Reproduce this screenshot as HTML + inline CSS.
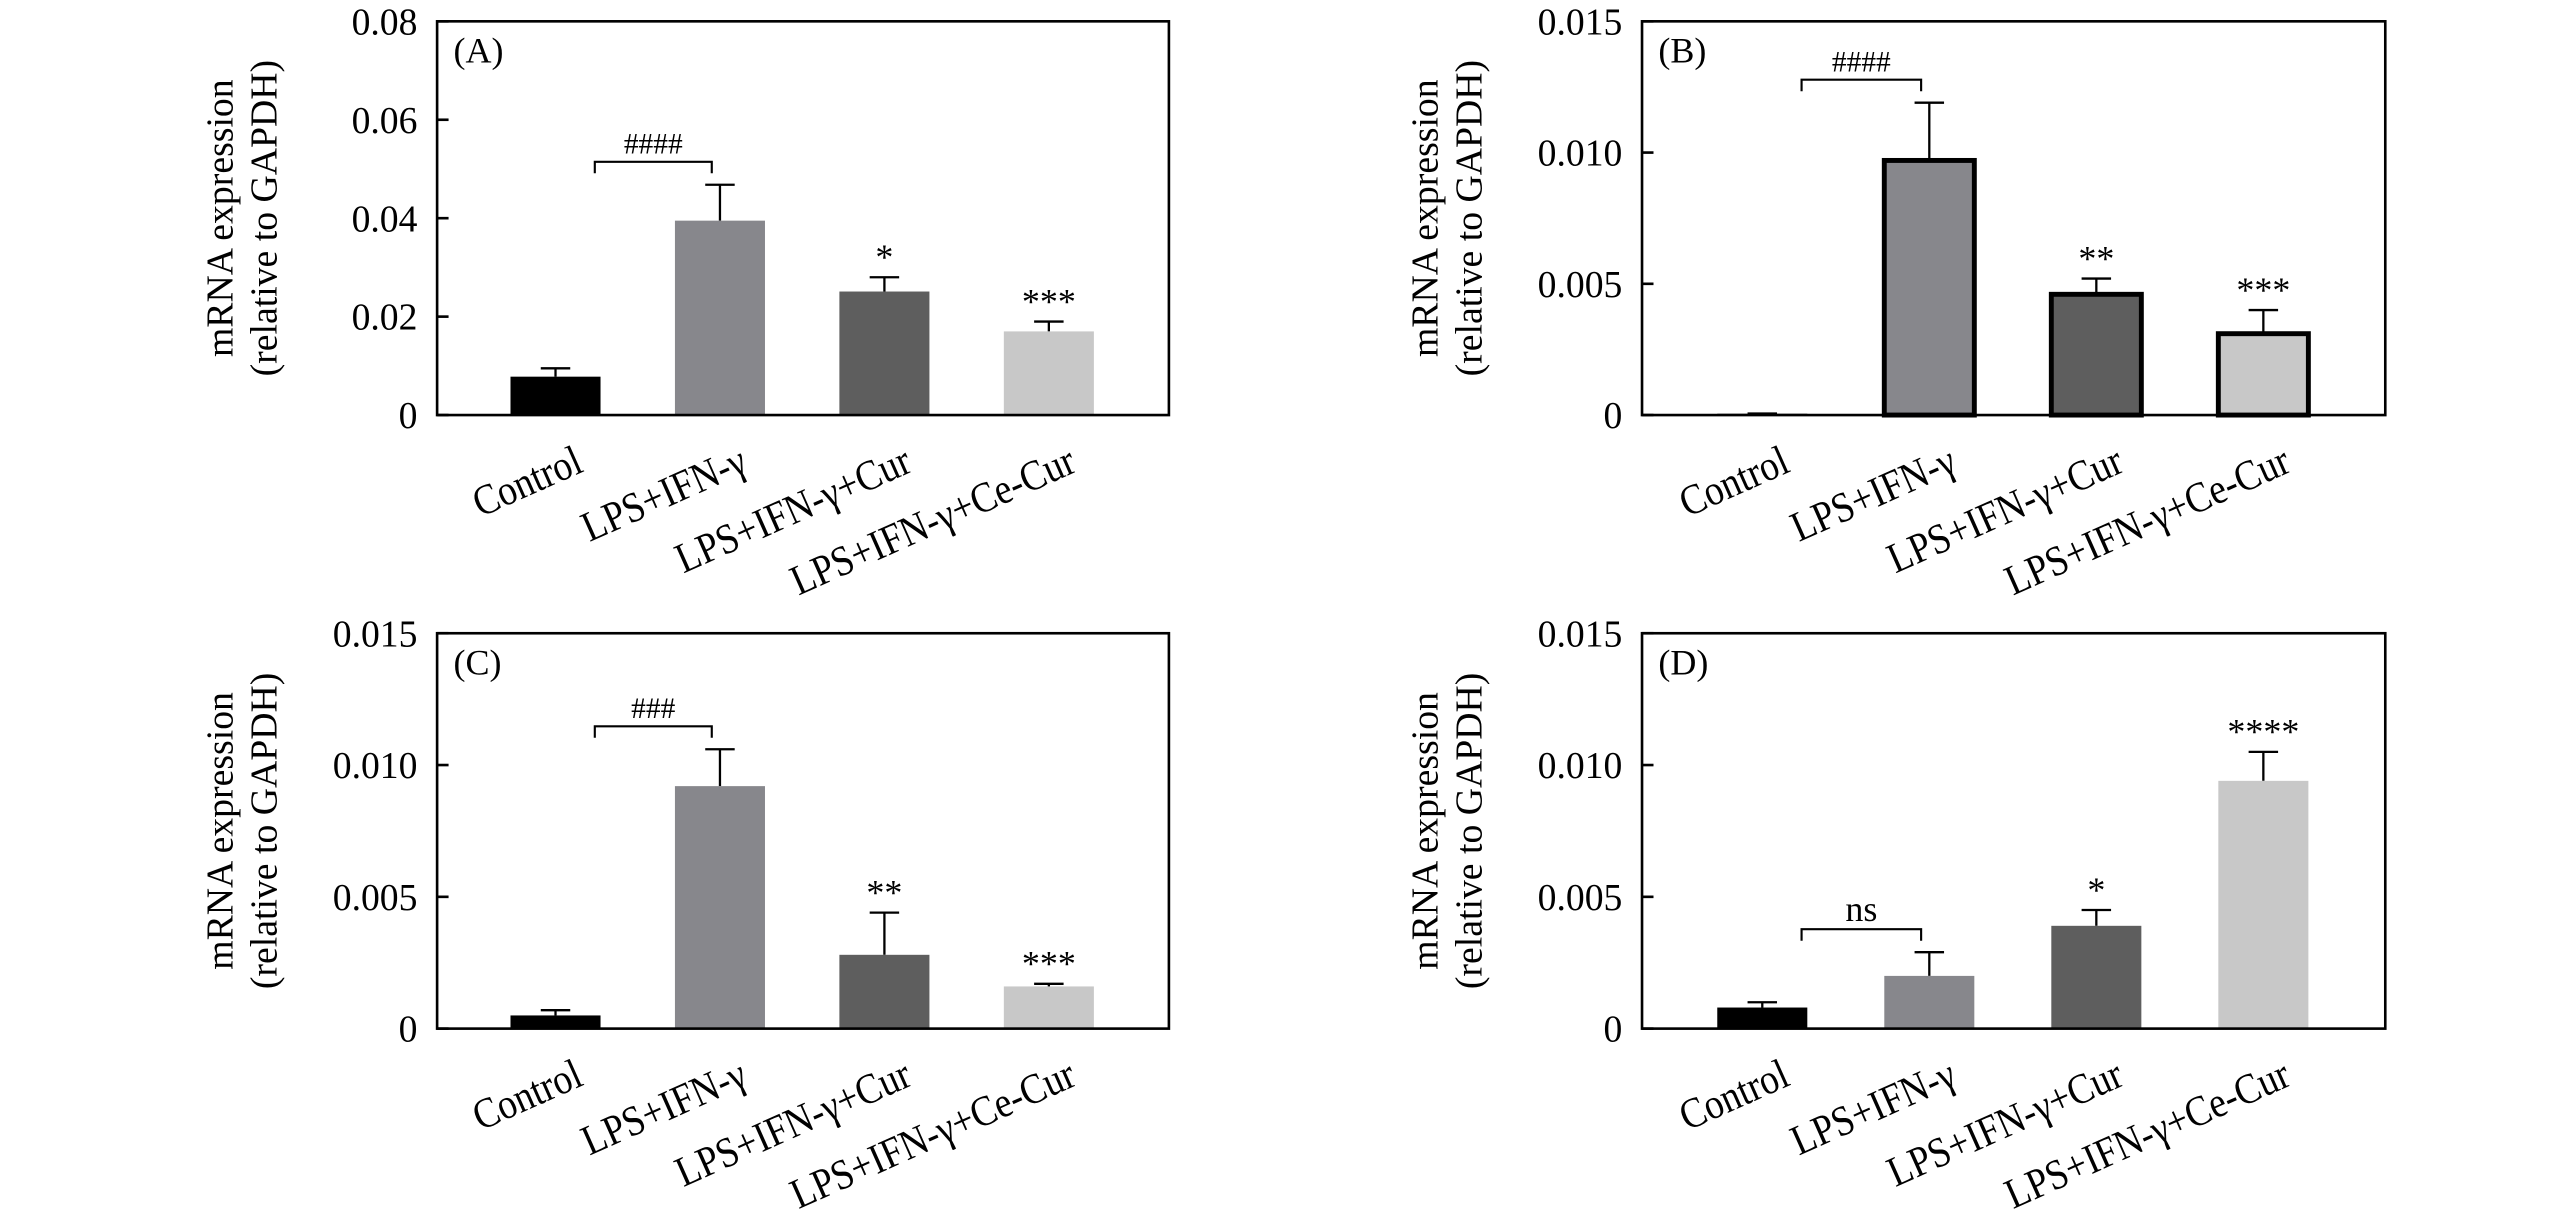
<!DOCTYPE html>
<html><head><meta charset="utf-8"><style>
html,body{margin:0;padding:0;background:#fff;}
svg{display:block;}
text{font-family:"Liberation Serif",serif;fill:#000;}
</style></head><body>
<svg id="fig" width="2567" height="1214" viewBox="0 0 1568 740" preserveAspectRatio="none" xmlns="http://www.w3.org/2000/svg"></svg>
<script>
const categories = ["Control", "LPS+IFN-\u03b3", "LPS+IFN-\u03b3+Cur", "LPS+IFN-\u03b3+Ce-Cur"];
const valuesA = [0.0078, 0.0395, 0.0251, 0.0170];
const errorsA = [0.0095, 0.0468, 0.0280, 0.0190];
const valuesB = [0.00005, 0.0097, 0.0046, 0.0031];
const errorsB = [0.00006, 0.0119, 0.0052, 0.0040];
const valuesC = [0.0005, 0.0092, 0.0028, 0.0016];
const errorsC = [0.0007, 0.0106, 0.0044, 0.0017];
const valuesD = [0.0008, 0.0020, 0.0039, 0.0094];
const errorsD = [0.0010, 0.0029, 0.0045, 0.0105];
const starsA = ["", "", "*", "***"];
const starsB = ["", "", "**", "***"];
const starsC = ["", "", "**", "***"];
const starsD = ["", "", "*", "****"];
const ticksA = [0, 0.02, 0.04, 0.06, 0.08];
const tickLabelsA = ["0", "0.02", "0.04", "0.06", "0.08"];
const ticksB = [0, 0.005, 0.010, 0.015];
const tickLabelsB = ["0", "0.005", "0.010", "0.015"];
const bracketLabels = ["####", "####", "###", "ns"];

const NS = "http://www.w3.org/2000/svg";
const svg = document.getElementById("fig");
const colors = ["#000000", "#87878c", "#5e5e5e", "#c8c8c8"];
function mk(tag, attrs, parent) {
  const e = document.createElementNS(NS, tag);
  for (const k in attrs) e.setAttribute(k, attrs[k]);
  (parent || svg).appendChild(e);
  return e;
}
function panel(id, L, R, T, B, ymax, ticks, tickLabels, vals, errs, stars, outlined, brLabel) {
  const g = mk("g", {});
  
  
  const y = v => B - (v / ymax) * (B - T);
  const n = categories.length;
  const step = (R - L) / (n + 0.45);
  const x = i => L + step * (0.72 + i);
  const bw = 55;
  vals.forEach((v, i) => {
    const cx = x(i);
    const er = mk("line", {x1: cx, x2: cx, y1: y(errs[i]), y2: y(v), stroke: "#000", "stroke-width": 1.4}, g);
    
    
    mk("line", {x1: cx - 9, x2: cx + 9, y1: y(errs[i]), y2: y(errs[i]), stroke: "#000", "stroke-width": 1.4}, g);
    const h = Math.max(B - y(v), 0.8);
    const r = mk("rect", {x: cx - bw / 2, y: B - h, width: bw, height: h, fill: colors[i]}, g);
    if (outlined && i > 0) { r.setAttribute("stroke", "#000"); r.setAttribute("stroke-width", 3); }
    
    
    if (stars[i]) {
      const s = mk("text", {x: cx, y: y(errs[i]) - 5, "text-anchor": "middle", "font-size": 22}, g);
      s.textContent = stars[i];
      
      
    }
    const lb = mk("text", {x: 0, y: 0, "text-anchor": "end", "font-size": 26, transform: `translate(${cx + 18},${B + 34}) rotate(-24) scale(0.88,1)`}, g);
    lb.textContent = categories[i];
    
    
  });
  const by = Math.min(y(errs[0]), y(errs[1])) - 14;
  const x0 = x(0) + 24, x1 = x(1) - 5;
  const br = mk("path", {d: `M${x0},${by + 7} V${by} H${x1} V${by + 7}`, fill: "none", stroke: "#000", "stroke-width": 1.3}, g);
  
  
  const bt = mk("text", {x: (x0 + x1) / 2, y: by - 5, "text-anchor": "middle", "font-size": brLabel === "ns" ? 22 : 18}, g);
  bt.textContent = brLabel;
  
  
  const box = mk("rect", {x: L, y: T, width: R - L, height: B - T, fill: "none", stroke: "#000", "stroke-width": 1.6}, g);
  
  
  ticks.forEach((t, k) => {
    mk("line", {x1: L, x2: L + 7, y1: y(t), y2: y(t), stroke: "#000", "stroke-width": 1.6}, g);
    const tl = mk("text", {x: L - 12, y: y(t) + 8, "text-anchor": "end", "font-size": 23}, g);
    tl.textContent = tickLabels[k];
    
    
  });
  const pl = mk("text", {x: L + 10, y: T + 25, "font-size": 22}, g);
  pl.textContent = "(" + id + ")";
  
  
  const cy = (T + B) / 2;
  const t1 = mk("text", {x: 0, y: 0, "text-anchor": "middle", "font-size": 23, transform: `translate(${L - 125},${cy}) rotate(-90)`}, g);
  t1.textContent = "mRNA expression";
  
  
  const t2 = mk("text", {x: 0, y: 0, "text-anchor": "middle", "font-size": 23, transform: `translate(${L - 98},${cy}) rotate(-90)`}, g);
  t2.textContent = "(relative to GAPDH)";
  
  
}
panel("A", 267, 714, 13, 253, 0.08, ticksA, tickLabelsA, valuesA, errorsA, starsA, false, bracketLabels[0]);
panel("B", 1003, 1457, 13, 253, 0.015, ticksB, tickLabelsB, valuesB, errorsB, starsB, true, bracketLabels[1]);
panel("C", 267, 714, 386, 627, 0.015, ticksB, tickLabelsB, valuesC, errorsC, starsC, false, bracketLabels[2]);
panel("D", 1003, 1457, 386, 627, 0.015, ticksB, tickLabelsB, valuesD, errorsD, starsD, false, bracketLabels[3]);
</script>
</body></html>
